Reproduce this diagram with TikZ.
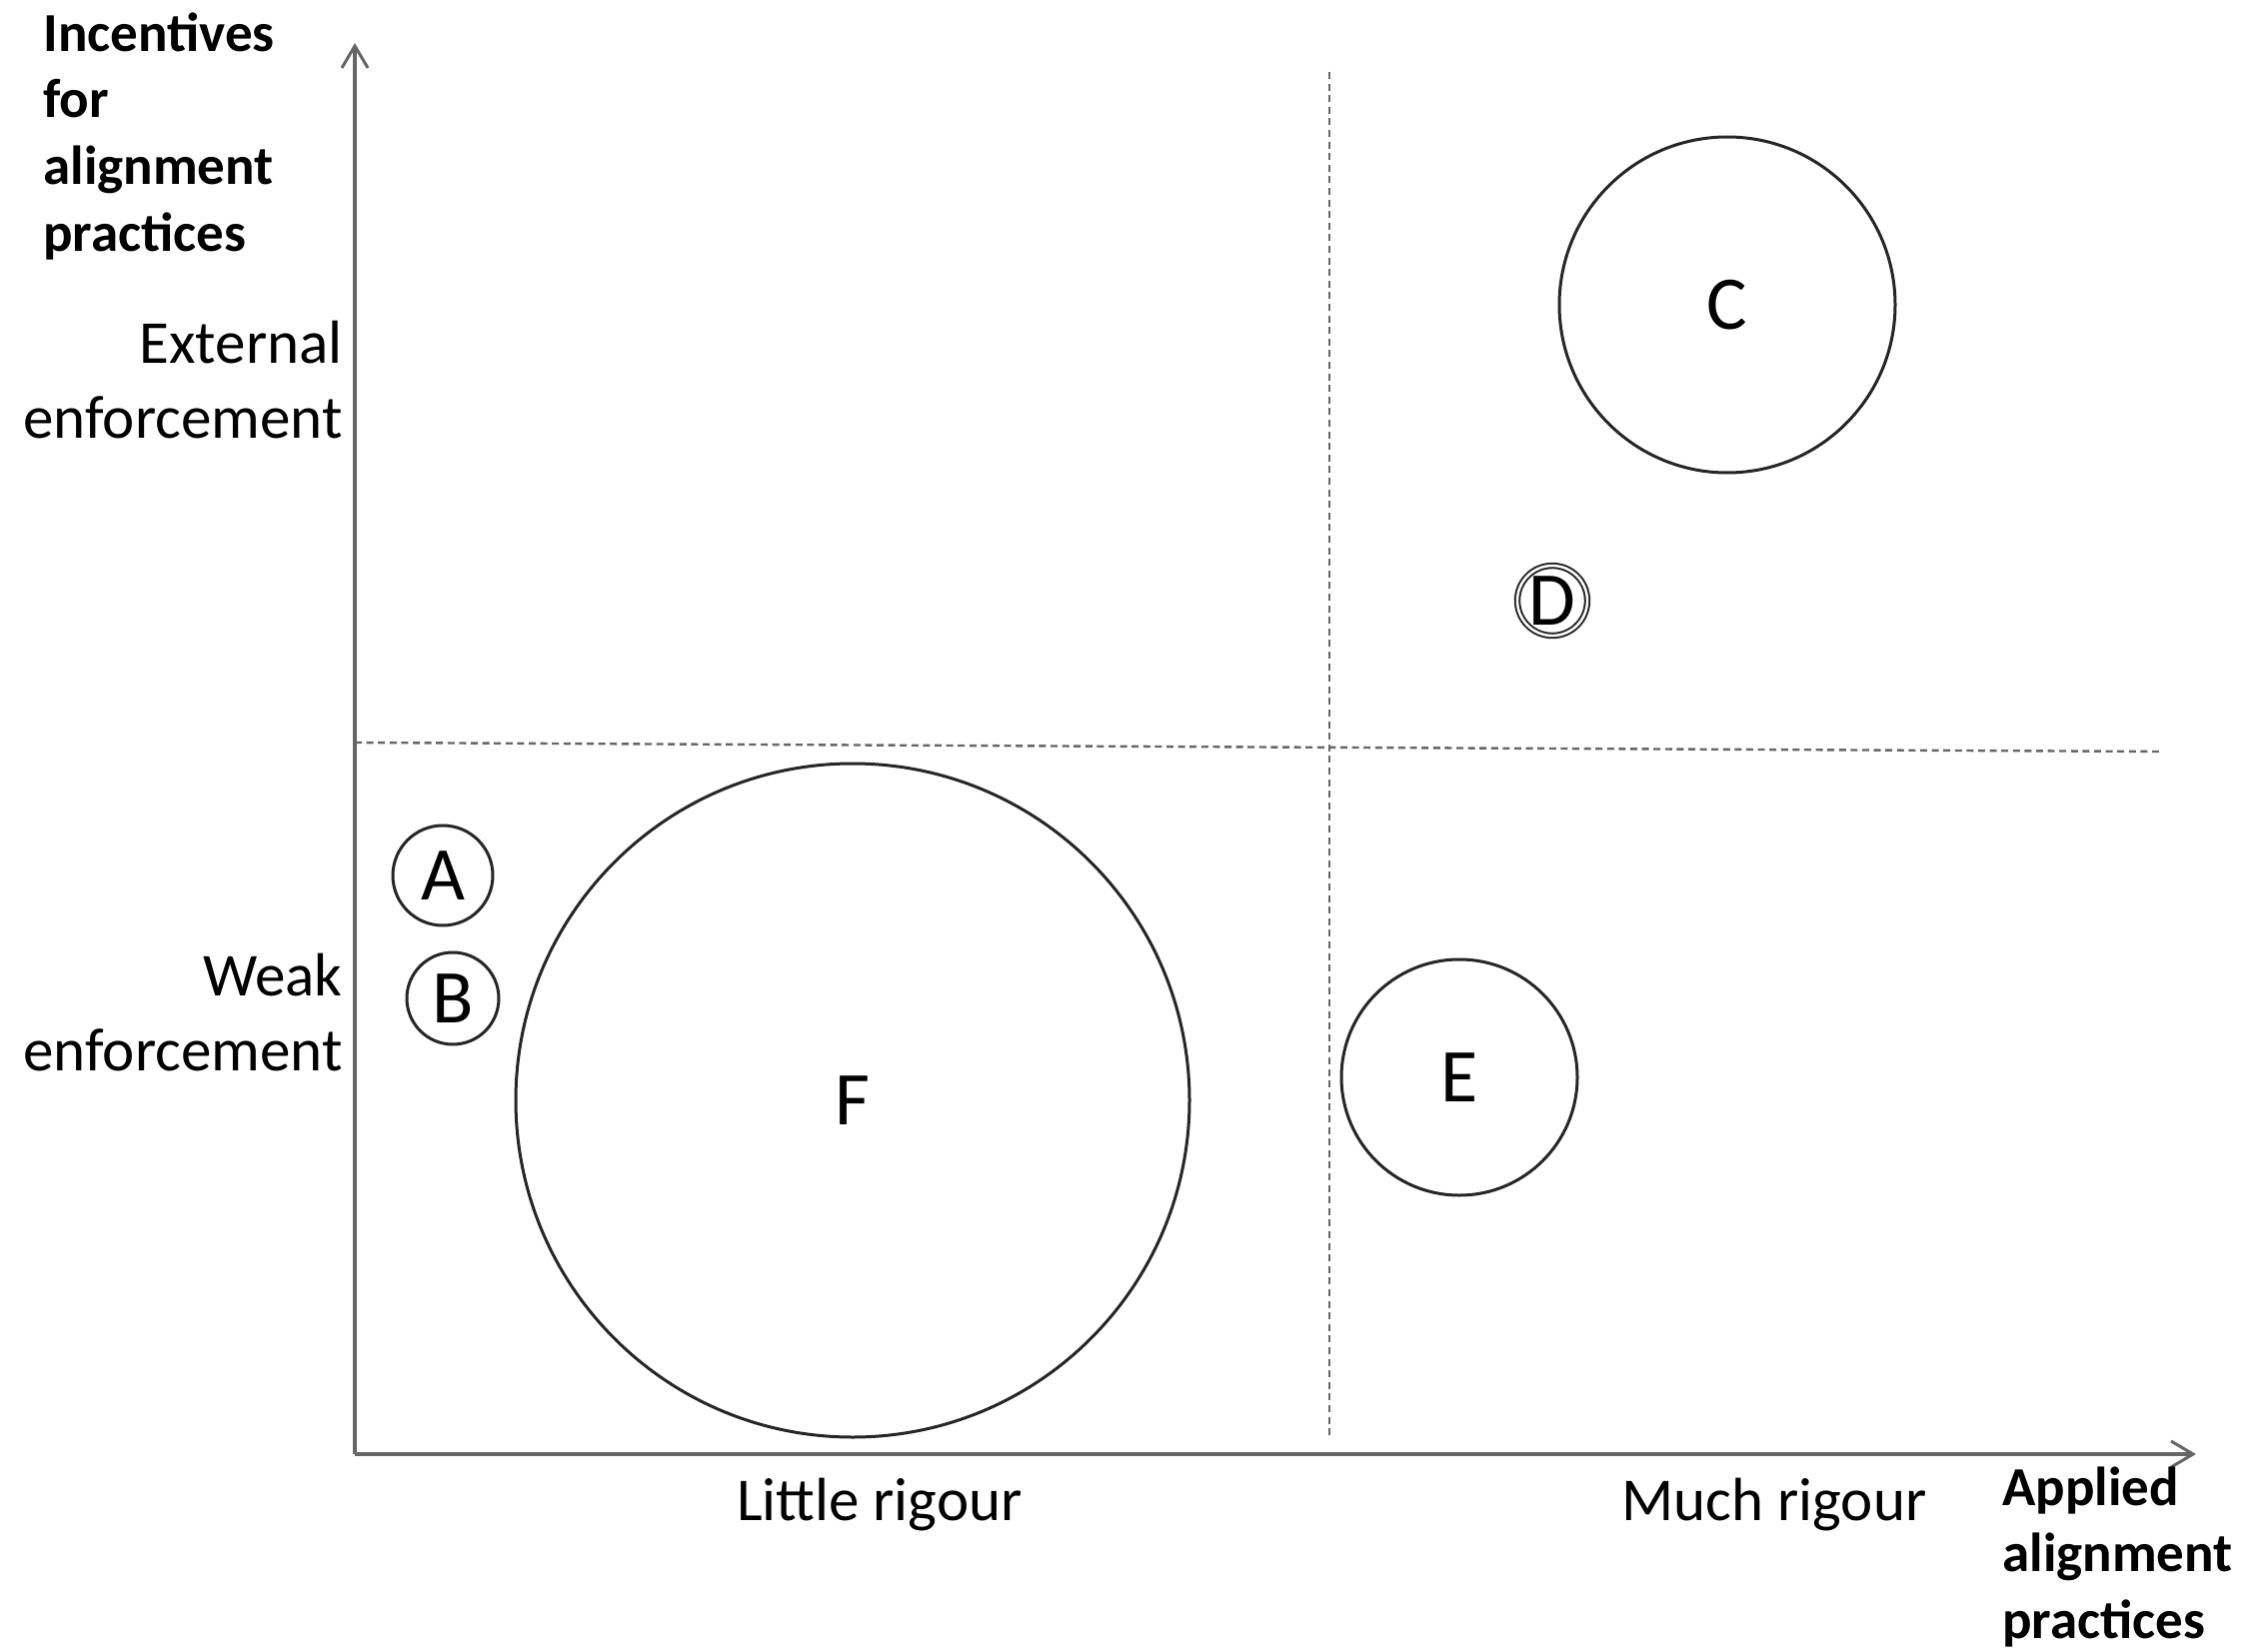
\documentclass[tikz,border=0pt]{standalone}
\usepackage{fontspec}
\setmainfont{Carlito}
\usetikzlibrary{arrows.meta}
\begin{document}
\begin{tikzpicture}[x=0.5pt,y=-0.5pt,
  axis/.style={draw=black!60, line width=2pt, -{Straight Barb[length=11pt,width=13pt,line width=1.5pt]}},
  divider/.style={draw=black!60, line width=1.2pt, dash pattern=on 3.5pt off 2.3pt},
  bubble/.style={circle, draw=black!85, line width=1.5pt, inner sep=0pt, font=\fontsize{38}{44}\selectfont},
  lab/.style={font=\fontsize{30.5}{37.5}\selectfont, inner sep=0pt},
  blab/.style={font=\fontsize{27.5}{33.4}\selectfont\bfseries, inner sep=0pt, align=left}]
\useasboundingbox (0,0) rectangle (2255,1653);
\coordinate (O) at (355,1455);
\coordinate (Ytop) at (355,43);
\coordinate (Xend) at (2197,1455);
\coordinate (VT) at (1330,72);
\coordinate (VB) at (1330,1438);
\coordinate (HL) at (355,743);
\coordinate (HR) at (2164,752);
\draw[axis] (O) -- (Ytop);
\draw[axis] (O) -- (Xend);
\draw[divider] (VT) -- (VB);
\draw[divider] (HL) -- (HR);
\node[bubble, minimum size=336pt*0.5] (C) at (1728,305) {C};
\node[bubble, minimum size=70pt*0.5, double, double distance=1.2pt, line width=1pt] (D) at (1553,601) {D};
\node[bubble, minimum size=100pt*0.5] (A) at (443,876) {A};
\node[bubble, minimum size=92pt*0.5] (B) at (453,999) {B};
\node[bubble, minimum size=674pt*0.5] (F) at (853,1101) {F};
\node[bubble, minimum size=236pt*0.5] (E) at (1460,1078) {E};
\node[blab, anchor=north west] (ylab) at (43,12) {Incentives\\for\\alignment\\practices};
\node[lab, anchor=east, align=right] (ext) at (343,380) {External\\enforcement};
\node[lab, anchor=east, align=right] (weak) at (343,1013) {Weak\\enforcement};
\node[lab] (little) at (880,1506) {Little rigour};
\node[lab] (much) at (1775,1506) {Much rigour};
\node[blab, anchor=north west] (xlab) at (2003,1467) {Applied\\alignment\\practices};
\end{tikzpicture}
\end{document}
